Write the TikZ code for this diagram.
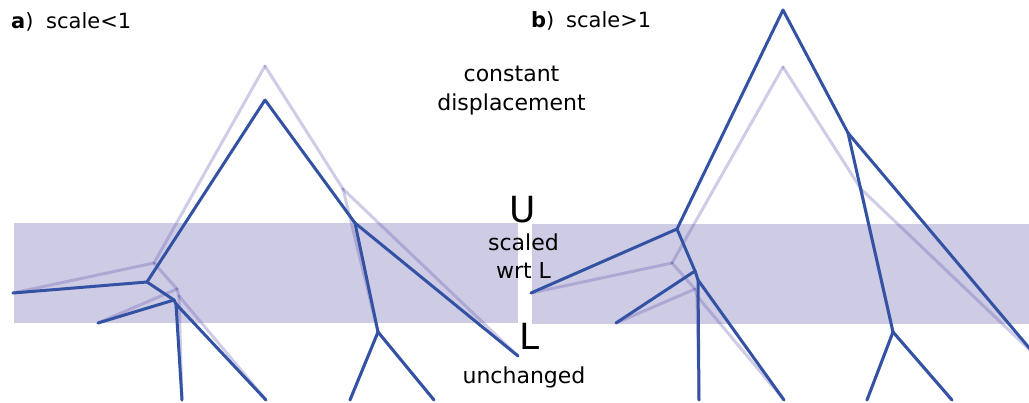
\documentclass[tikz,border=0pt]{standalone}
\usepackage{fontspec}
\setmainfont{DejaVu Sans}
\definecolor{darkb}{RGB}{52,82,164}
\definecolor{lightb}{RGB}{95,85,175}
\definecolor{bandc}{RGB}{206,204,228}
\begin{document}
\begin{tikzpicture}[x=1pt,y=-1pt,
  dk/.style={draw=darkb,line width=3pt,line cap=round},
  lt/.style={draw=lightb,draw opacity=0.3,line width=3pt,line cap=round},
  bandbox/.style={fill=bandc,draw=none},
  lbl/.style={font=\fontsize{22}{28}\selectfont,anchor=base,inner sep=0pt},
  big/.style={font=\fontsize{36}{36}\selectfont,anchor=base,inner sep=0pt},
  hd/.style={font=\fontsize{21}{24}\selectfont,anchor=base west,inner sep=0pt}]
\useasboundingbox (0,0) rectangle (1029,402);
\clip (0,0) rectangle (1029,402);
% bands
\fill[bandbox] (14,223) rectangle (518,323);
\fill[bandbox] (532,224) rectangle (1029,324);
% ---------- panel a ----------
\coordinate (aL1) at (13,293);
\coordinate (aL2) at (98,323);
\coordinate (aL3) at (182,400);
\coordinate (aL4) at (266,400);
\coordinate (aL5) at (518,356);
\coordinate (aL6) at (350,400);
\coordinate (aL7) at (434,400);
% original (light)
\coordinate (aPtop) at (265,66);
\coordinate (aPj1) at (154,263);
\coordinate (aPj2) at (177,289);
\coordinate (aPj3) at (179,296);
\coordinate (aPr1) at (343,189);
\coordinate (aPr2) at (378,332);
% scaled (dark)
\coordinate (aDtop) at (265,100);
\coordinate (aDj1) at (147,282);
\coordinate (aDj2) at (174,300);
\coordinate (aDj3) at (176,304);
\coordinate (aDr1) at (355,223);
\coordinate (aDr2) at (378,332);
% ---------- panel b ----------
\coordinate (bL1) at (531,293);
\coordinate (bL2) at (616,323);
\coordinate (bL3) at (699,400);
\coordinate (bL4) at (784,400);
\coordinate (bL5) at (1036,356);
\coordinate (bL6) at (867,400);
\coordinate (bL7) at (952,400);
\coordinate (bPtop) at (783,67);
\coordinate (bPj1) at (672,263);
\coordinate (bPj2) at (695,289);
\coordinate (bPj3) at (697,296);
\coordinate (bPr1) at (861,189);
\coordinate (bPr2) at (893,332);
\coordinate (bDtop) at (783,10);
\coordinate (bDj1) at (677,229);
\coordinate (bDj2) at (695,271);
\coordinate (bDj3) at (698,280);
\coordinate (bDr1) at (848,133);
\coordinate (bDr2) at (893,332);
% light trees
\foreach \p/\lf in {a/a,b/b}{
  \draw[lt] (\p Ptop) -- (\p Pj1);
  \draw[lt] (\p Pj1) -- (\lf L1);
  \draw[lt] (\p Pj1) -- (\p Pj2);
  \draw[lt] (\p Pj2) -- (\lf L2);
  \draw[lt] (\p Pj2) -- (\p Pj3);
  \draw[lt] (\p Pj3) -- (\lf L3);
  \draw[lt] (\p Pj3) -- (\lf L4);
  \draw[lt] (\p Ptop) -- (\p Pr1);
  \draw[lt] (\p Pr1) -- (\lf L5);
  \draw[lt] (\p Pr1) -- (\p Pr2);
  \draw[lt] (\p Pr2) -- (\lf L6);
  \draw[lt] (\p Pr2) -- (\lf L7);
}
% dark trees
\foreach \p/\lf in {a/a,b/b}{
  \draw[dk] (\p Dtop) -- (\p Dj1);
  \draw[dk] (\p Dj1) -- (\lf L1);
  \draw[dk] (\p Dj1) -- (\p Dj2);
  \draw[dk] (\p Dj2) -- (\lf L2);
  \draw[dk] (\p Dj2) -- (\p Dj3);
  \draw[dk] (\p Dj3) -- (\lf L3);
  \draw[dk] (\p Dj3) -- (\lf L4);
  \draw[dk] (\p Dtop) -- (\p Dr1);
  \draw[dk] (\p Dr1) -- (\lf L5);
  \draw[dk] (\p Dr1) -- (\p Dr2);
  \draw[dk] (\p Dr2) -- (\lf L6);
  \draw[dk] (\p Dr2) -- (\lf L7);
}
% labels
\node[hd] (ha) at (11,28) {\textbf{a})};
\node[hd] (hat) at (46,28) {scale<1};
\node[hd] (hb) at (531,27) {\textbf{b})};
\node[hd] (hbt) at (566,27) {scale>1};
\node[lbl] (t1) at (511.5,81) {constant};
\node[lbl] (t2) at (511.5,110) {displacement};
\node[big] (tU) at (523,222) {U};
\node[lbl] (t3) at (523.5,250) {scaled};
\node[lbl] (t4) at (523.5,278) {wrt L};
\node[big] (tL) at (530,349) {L};
\node[lbl] (t5) at (524,383) {unchanged};
\end{tikzpicture}
\end{document}
